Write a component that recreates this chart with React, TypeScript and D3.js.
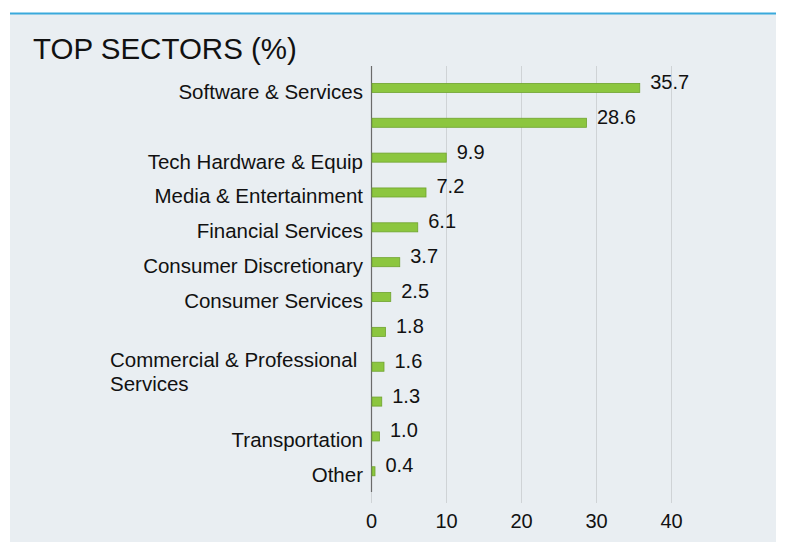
import { useRef, useEffect } from "react";
import * as d3 from "d3";

const sectors = [
  "Software & Services",
  "",
  "Tech Hardware & Equip",
  "Media & Entertainment",
  "Financial Services",
  "Consumer Discretionary",
  "Consumer Services",
  "",
  "Commercial & Professional|Services",
  "",
  "Transportation",
  "Other",
];
const weights = [35.7, 28.6, 9.9, 7.2, 6.1, 3.7, 2.5, 1.8, 1.6, 1.3, 1.0, 0.4];
const xTicks = [0, 10, 20, 30, 40];

export default function App() {
  const ref = useRef<SVGSVGElement>(null);

  useEffect(() => {
    const w = 790;
    const h = 553;
    const font = "'Liberation Sans', Arial, Helvetica, sans-serif";

    const svg = d3.select(ref.current);
    svg.selectAll("*").remove();

    // panel + blue rule on top
    svg
      .append("rect")
      .attr("x", 10)
      .attr("y", 14)
      .attr("width", 766)
      .attr("height", 528)
      .attr("fill", "#e9eef2");
    svg
      .append("line")
      .attr("x1", 10)
      .attr("x2", 776)
      .attr("y1", 13.5)
      .attr("y2", 13.5)
      .attr("stroke", "#3aa9dc")
      .attr("stroke-width", 2);

    svg
      .append("text")
      .text("TOP SECTORS (%)")
      .attr("x", 33)
      .attr("y", 58.5)
      .attr("font-family", font)
      .attr("font-size", "29.5px")
      .attr("fill", "#111");

    const xScale = d3.scaleLinear().domain([0, 40]).range([371.5, 671.5]);

    const yScale = d3
      .scaleBand<number>()
      .domain(d3.range(weights.length))
      .range([70.5, 488.7])
      .paddingInner(0.74)
      .paddingOuter(0.37);

    // vertical gridlines
    svg
      .selectAll("line.grid")
      .data(xTicks)
      .enter()
      .append("line")
      .attr("class", "grid")
      .attr("x1", (d) => xScale(d))
      .attr("x2", (d) => xScale(d))
      .attr("y1", 66)
      .attr("y2", 503)
      .attr("stroke", "#cfd3d6")
      .attr("stroke-width", 1);

    // category axis line
    svg
      .append("line")
      .attr("x1", xScale(0))
      .attr("x2", xScale(0))
      .attr("y1", 66)
      .attr("y2", 492)
      .attr("stroke", "#6b6b6b")
      .attr("stroke-width", 1.2);

    // bars
    svg
      .selectAll("rect.bar")
      .data(weights)
      .enter()
      .append("rect")
      .attr("class", "bar")
      .attr("x", xScale(0) + 0.5)
      .attr("y", (d, i) => yScale(i)!)
      .attr("width", (d) => xScale(d) - xScale(0))
      .attr("height", yScale.bandwidth())
      .attr("fill", "#8cc63f")
      .attr("stroke", "#6fa32e")
      .attr("stroke-width", 0.8);

    // value labels
    svg
      .selectAll("text.value")
      .data(weights)
      .enter()
      .append("text")
      .attr("class", "value")
      .text((d) => d.toFixed(1))
      .attr("x", (d) => xScale(d) + 11)
      .attr("y", (d, i) => yScale(i)! + yScale.bandwidth() / 2 + 1)
      .attr("font-family", font)
      .attr("font-size", "20px")
      .attr("fill", "#111");

    // category labels (wrapped with "|")
    sectors.forEach((s, i) => {
      if (!s) return;
      const lines = s.split("|");
      const cy = yScale(i)! + yScale.bandwidth() / 2;
      const t = svg
        .append("text")
        .attr("font-family", font)
        .attr("font-size", "20.5px")
        .attr("fill", "#111");
      if (lines.length === 1) {
        t.attr("x", 363)
          .attr("y", cy + 11)
          .attr("text-anchor", "end")
          .text(s);
      } else {
        lines.forEach((l, k) => {
          t.append("tspan")
            .attr("x", 110)
            .attr("y", cy + 0.5 + k * 23.5)
            .text(l);
        });
      }
    });

    // x tick labels
    svg
      .selectAll("text.tick")
      .data(xTicks)
      .enter()
      .append("text")
      .attr("class", "tick")
      .text((d) => d)
      .attr("x", (d) => xScale(d))
      .attr("y", 528)
      .attr("text-anchor", "middle")
      .attr("font-family", font)
      .attr("font-size", "20px")
      .attr("fill", "#111");

    svg.attr("width", w).attr("height", h);
  }, []);

  return (
    <svg
      ref={ref}
      width={790}
      height={553}
      style={{ position: "absolute", left: 0, top: 0, background: "#fff" }}
    ></svg>
  );
}
